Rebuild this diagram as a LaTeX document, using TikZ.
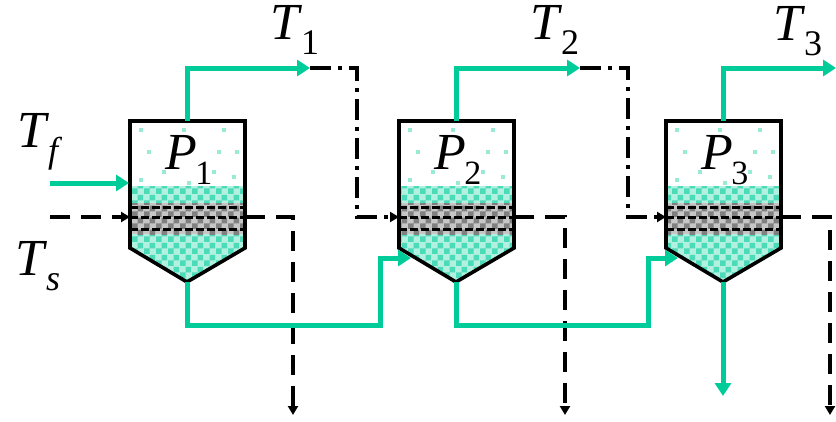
\documentclass[tikz,border=0pt]{standalone}
\usepackage{fontspec}
\setmainfont{Liberation Serif}
\usetikzlibrary{arrows.meta,patterns}

\definecolor{liquor}{RGB}{0,204,153}

% small checker used for the boiling liquor and the coil
\pgfdeclarepatternformonly{checker}{\pgfqpoint{0pt}{0pt}}{\pgfqpoint{12pt}{12pt}}{\pgfqpoint{12pt}{12pt}}{%
  \pgfpathrectangle{\pgfqpoint{0pt}{0pt}}{\pgfqpoint{6pt}{6pt}}%
  \pgfpathrectangle{\pgfqpoint{6pt}{6pt}}{\pgfqpoint{6pt}{6pt}}%
  \pgfusepath{fill}}

\newcommand\tlabel[2]{\textit{#1}\kern-.03em\raisebox{-.3em}{\fontsize{36}{36}\selectfont #2}}

\tikzset{
  pipe/.style={draw=liquor, line width=5pt, -{Triangle[length=13pt,width=16pt]}},
  steam/.style={line width=3.2pt, dash pattern=on 20pt off 11pt, -{Triangle[length=9pt,width=10pt]}},
  vapour/.style={line width=3.2pt, dash pattern=on 21pt off 7pt on 4pt off 7pt, -{Triangle[length=9pt,width=10pt]}},
  shell/.style={line width=3.6pt, line join=miter},
  coilline/.style={line width=3pt, dash pattern=on 8pt off 3pt},
  lbl/.style={font=\fontsize{52}{52}\selectfont, inner sep=0pt},
}

\begin{document}
\begin{tikzpicture}[x=1pt,y=-1pt]
  \useasboundingbox (0,0) rectangle (836,421);
  % the three effects
  \foreach \i/\cx in {1/187,2/456,3/723} {
    \coordinate (p\i-top) at (\cx,121);
    \coordinate (p\i-bot) at (\cx,282);
    \coordinate (p\i-w)   at (\cx-57,217);
    \coordinate (p\i-e)   at (\cx+58,217);
    \coordinate (p\i-in)  at (\cx-45,258);
    % vapour space
    \foreach \dx/\dy in {-48/128,-5/128,35/128,-40/150,-15/150,30/150,48/150,-48/178,-25/170,25/170,45/175,0/181}
      \fill[liquor!40] (\cx+\dx,\dy) rectangle ++(4,4);
    % boiling liquor
    \fill[liquor!30] (\cx-57,186) -- (\cx+58,186) -- (\cx+58,248) -- (\cx,282) -- (\cx-57,248) -- cycle;
    \fill[pattern=checker, pattern color=liquor!70] (\cx-57,186) -- (\cx+58,186) -- (\cx+58,248) -- (\cx,282) -- (\cx-57,248) -- cycle;
    % heating coil
    \fill[gray!45] (\cx-57,203) rectangle (\cx+58,234);
    \fill[pattern=checker, pattern color=black!50] (\cx-57,203) rectangle (\cx+58,234);
    \foreach \y in {207,217,229}
      \draw[coilline] (\cx-57,\y) -- (\cx+58,\y);
    \draw[shell] (\cx-57,121) -- (\cx+58,121) -- (\cx+58,248) -- (\cx,282) -- (\cx-57,248) -- cycle;
    \node[lbl] (p\i) at (\cx+2,160) {\textit{P}\kern-.04em\raisebox{-.3em}{\fontsize{34}{34}\selectfont\i}};
  }

  % feed and live steam
  \coordinate (feed) at (50,183);
  \coordinate (p1-f) at (129,183);
  \coordinate (live) at (50,217);
  \draw[pipe] (feed) -- (p1-f);
  \draw[steam] (live) -- (p1-w);

  % condensate out of each coil
  \foreach \i/\dx in {1/293,2/565,3/830} {
    \coordinate (d\i) at (\dx,415);
    \draw[steam] (p\i-e) -| (d\i);
  }

  % vapour off the top
  \coordinate (v1) at (310,68);
  \coordinate (v2) at (580,68);
  \coordinate (v3) at (836,68);
  \coordinate (k1) at (357,68);
  \coordinate (k2) at (628,68);
  \foreach \i in {1,2,3}
    \draw[pipe] (p\i-top) |- (v\i);
  \draw[vapour] (v1) -- (k1) |- (p2-w);
  \draw[vapour] (v2) -- (k2) |- (p3-w);

  % liquor passed forward
  \coordinate (j1) at (380,325);
  \coordinate (j2) at (648,325);
  \coordinate (prod) at (723,396);
  \draw[pipe] (p1-bot) |- (j1) |- (p2-in);
  \draw[pipe] (p2-bot) |- (j2) |- (p3-in);
  \draw[pipe] (p3-bot) -- (prod);

  % temperatures
  \node[lbl] (t1) at (295,30) {\tlabel{T}{1}};
  \node[lbl] (t2) at (555,30) {\tlabel{T}{2}};
  \node[lbl] (t3) at (798,31) {\tlabel{T}{3}};
  \node[lbl] (tf) at (40,142) {\tlabel{T}{\textit{f}}};
  \node[lbl] (ts) at (38,266) {\tlabel{T}{\textit{s}}};
\end{tikzpicture}
\end{document}
